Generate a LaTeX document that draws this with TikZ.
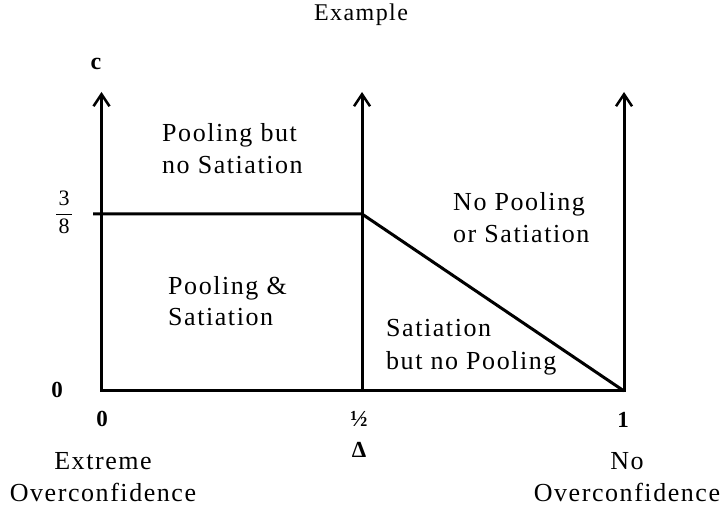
\documentclass[tikz,border=0pt]{standalone}
\usepackage{fontspec}
\usepackage{amsmath}
\setmainfont{Liberation Serif}
\newfontfamily\spaced{Liberation Serif}[LetterSpace=6]
\usetikzlibrary{arrows.meta}
\begin{document}
\begin{tikzpicture}[x=1pt,y=-1pt,
  axis/.style={line width=3pt, line join=miter},
  barb/.tip={Straight Barb[length=12pt,width=16pt,line width=2.5pt]},
  lbl/.style={inner sep=0, anchor=base west, font=\fontsize{26}{30}\selectfont\spaced},
  clbl/.style={inner sep=0, anchor=base, font=\fontsize{26}{30}\selectfont\spaced},
  tick/.style={inner sep=0, anchor=base, font=\fontsize{23}{26}\selectfont\bfseries},
]
\useasboundingbox (0,0) rectangle (726,510);
% axes
\coordinate (O) at (101.5,391);
\coordinate (H) at (362,391);
\coordinate (R) at (624,391);
\coordinate (Otop) at (101.5,92);
\coordinate (Htop) at (362,92);
\coordinate (Rtop) at (624,92);
\coordinate (Q) at (93,214);
\coordinate (Hq) at (362,214);
\draw[axis, barb-barb] (Otop) -- (O) -- (R) -- (Rtop);
\draw[axis, barb-] (Htop) -- (H);
\draw[axis] (Q) -- (Hq) -- (R);
% title
\node[clbl, font=\fontsize{24}{28}\selectfont\spaced] (title) at (361,21) {Example};
% axis labels
\node[tick, font=\fontsize{24}{26}\selectfont\bfseries] (c) at (96,69.5) {c};
\node[tick] (zl) at (57,398) {0};
\node[tick] (zb) at (102,427) {0};
\node[tick] (half) at (359,427) {½};
\node[tick] (one) at (623,428) {1};
\node[tick] (delta) at (359,458) {Δ};
\node[inner sep=0, anchor=base, font=\fontsize{22}{22}\selectfont] (frac) at (64,219.5)
  {$\dfrac{\makebox[16pt]{\text{3}}}{\makebox[16pt]{\text{8}}}$};
% bottom captions
\node[clbl] (ext) at (103,470) {Extreme};
\node[clbl] (oc1) at (103,502) {Overconfidence};
\node[clbl] (no) at (627,470) {No};
\node[clbl] (oc2) at (627,502) {Overconfidence};
% region labels
\node[lbl] (r1a) at (162,142) {Pooling but};
\node[lbl] (r1b) at (162,174) {no Satiation};
\node[lbl] (r2a) at (168,295) {Pooling \&};
\node[lbl] (r2b) at (168,326) {Satiation};
\node[lbl] (r3a) at (453,211) {No Pooling};
\node[lbl] (r3b) at (453,243) {or Satiation};
\node[lbl] (r4a) at (386,337) {Satiation};
\node[lbl] (r4b) at (386,370) {but no Pooling};
\end{tikzpicture}
\end{document}
